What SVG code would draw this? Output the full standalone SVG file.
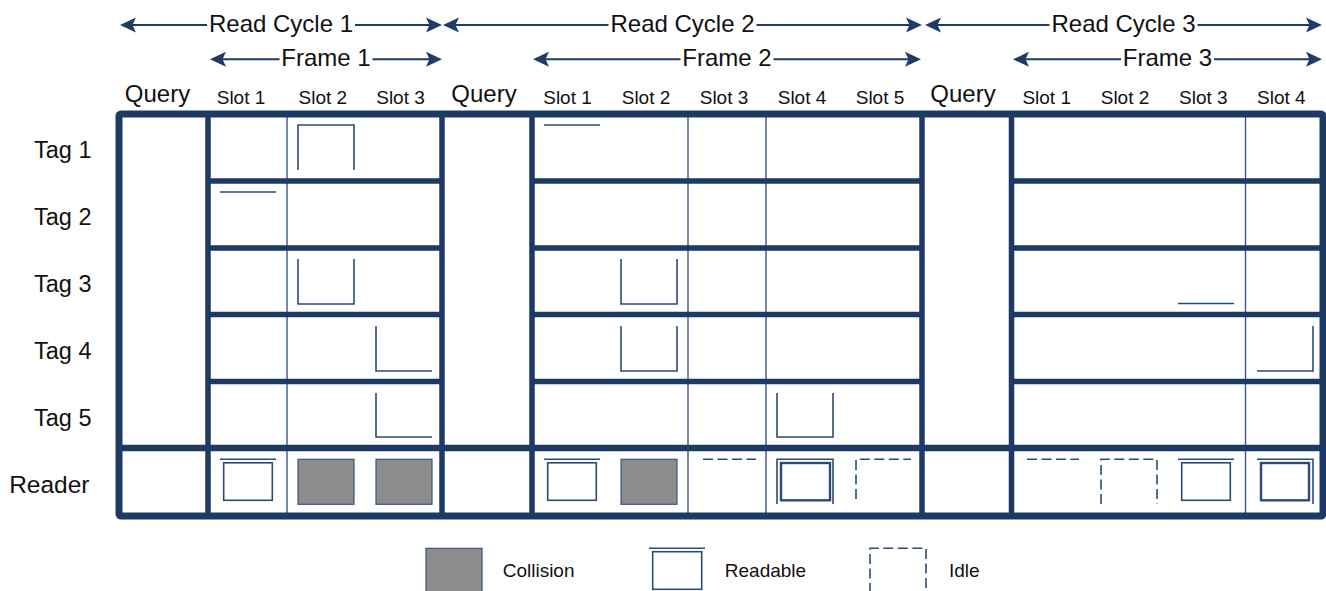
<svg xmlns="http://www.w3.org/2000/svg" xmlns:xlink="http://www.w3.org/1999/xlink" width="1326" height="591" viewBox="0 0 1326 591">
  <style>
    text { font-family: "Liberation Sans", Arial, sans-serif; fill: #111; }
    .big { font-size: 24px; }
    .tag { font-size: 23.5px; }
    .slot { font-size: 19px; text-anchor: middle; }
    .leg { font-size: 19px; }
    .mid { text-anchor: middle; }
    .span { stroke: #1f3c66; stroke-width: 2; fill: none; marker-end: url(#head); }
    .frame { stroke: #1c3a64; stroke-width: 7; fill: none; stroke-linejoin: round; }
    .thick { stroke: #1c3a64; stroke-width: 5.5; fill: none; }
    .thin { stroke: #3d5884; stroke-width: 1.4; fill: none; }
    .sig { stroke: #2b4a78; stroke-width: 1.6; fill: none; }
    .sig2 { stroke: #2b4a78; stroke-width: 2.4; fill: none; }
    .idle { stroke: #2b4a78; stroke-width: 1.6; fill: none; stroke-dasharray: 10 4.5; }
    .coll { fill: #8c8c8c; stroke: #3a5580; stroke-width: 1.2; }
  </style>
  <defs>
    <marker id="head" viewBox="0 0 16 16" refX="8" refY="8" markerWidth="16" markerHeight="16" markerUnits="userSpaceOnUse" orient="auto">
      <path d="M0,0.5 L16,8 L0,15.5 L3.5,8 Z" fill="#1f3c66"/>
    </marker>
    <!-- reader received a clean reply: bar on top of a box -->
    <g id="readable">
      <path class="sig" d="M0,0 H56"/>
      <rect class="sig" x="3.7" y="3.5" width="48.6" height="37.5"/>
    </g>
    <rect id="collision" class="coll" x="0" y="0" width="56" height="45"/>
  </defs>

  <!-- timing spans above the table -->
  <g id="spans">
    <path class="span" d="M207,25 H128"/>
    <path class="span" d="M355,25 H434"/>
    <text class="big mid" x="281" y="32.3">Read Cycle 1</text>
    <path class="span" d="M608.5,25 H451"/>
    <path class="span" d="M756.5,25 H914"/>
    <text class="big mid" x="682.5" y="32.3">Read Cycle 2</text>
    <path class="span" d="M1049.5,25 H933"/>
    <path class="span" d="M1197.5,25 H1314"/>
    <text class="big mid" x="1123.5" y="32.3">Read Cycle 3</text>

    <path class="span" d="M279.5,59.3 H218"/>
    <path class="span" d="M372.5,59.3 H434"/>
    <text class="big mid" x="326" y="65.7">Frame 1</text>
    <path class="span" d="M680.5,59.3 H541"/>
    <path class="span" d="M773.5,59.3 H913"/>
    <text class="big mid" x="727" y="65.7">Frame 2</text>
    <path class="span" d="M1121,59.3 H1021"/>
    <path class="span" d="M1214,59.3 H1314"/>
    <text class="big mid" x="1167.5" y="65.7">Frame 3</text>
  </g>

  <!-- column headings -->
  <g id="columns">
    <text class="big mid" x="157.5" y="101.7">Query</text>
    <text class="big mid" x="484" y="101.7">Query</text>
    <text class="big mid" x="963" y="101.7">Query</text>
    <text class="slot" x="241" y="104">Slot 1</text>
    <text class="slot" x="322.8" y="104">Slot 2</text>
    <text class="slot" x="400.5" y="104">Slot 3</text>
    <text class="slot" x="567.5" y="104">Slot 1</text>
    <text class="slot" x="646" y="104">Slot 2</text>
    <text class="slot" x="724" y="104">Slot 3</text>
    <text class="slot" x="802" y="104">Slot 4</text>
    <text class="slot" x="880" y="104">Slot 5</text>
    <text class="slot" x="1046.7" y="104">Slot 1</text>
    <text class="slot" x="1125" y="104">Slot 2</text>
    <text class="slot" x="1203.3" y="104">Slot 3</text>
    <text class="slot" x="1281.3" y="104">Slot 4</text>
  </g>

  <!-- row headings -->
  <g id="rows">
    <text class="tag" x="91.5" y="158.3" text-anchor="end">Tag 1</text>
    <text class="tag" x="91.5" y="225.3" text-anchor="end">Tag 2</text>
    <text class="tag" x="91.5" y="292.2" text-anchor="end">Tag 3</text>
    <text class="tag" x="91.5" y="359.2" text-anchor="end">Tag 4</text>
    <text class="tag" x="91.5" y="426.2" text-anchor="end">Tag 5</text>
    <text class="tag" x="89.5" y="493" text-anchor="end" style="font-size:24.5px">Reader</text>
  </g>

  <!-- table grid -->
  <g id="grid">
    <path class="thin" d="M287,114 V516 M688,114 V516 M766,114 V516 M1245.5,114 V516"/>
    <path class="thick" d="M208,114 V516 M442,114 V516 M532,114 V516 M922,114 V516 M1011.5,114 V516"/>
    <path class="thick" d="M208,181 H442 M532,181 H922 M1011.5,181 H1323
                           M208,248 H442 M532,248 H922 M1011.5,248 H1323
                           M208,314.5 H442 M532,314.5 H922 M1011.5,314.5 H1323
                           M208,381.5 H442 M532,381.5 H922 M1011.5,381.5 H1323"/>
    <path class="thick" d="M119,448 H1323" style="stroke-width:6.5"/>
    <rect class="frame" x="119" y="114" width="1204" height="402" rx="2"/>
  </g>

  <!-- tag transmissions -->
  <g id="tags">
    <path class="sig" d="M298,170 V125 H354 V170"/>
    <path class="sig" d="M220,192 H276"/>
    <path class="sig" d="M298,259 V304 H354 V259"/>
    <path class="sig" d="M376,326 V371 H432"/>
    <path class="sig" d="M376,393 V437 H432"/>
    <path class="sig" d="M544,125 H600"/>
    <path class="sig" d="M621,259 V304 H677 V259"/>
    <path class="sig" d="M621,326 V371 H677 V326"/>
    <path class="sig" d="M777,393 V437 H833 V393"/>
    <path class="sig" d="M1178,303.5 H1234"/>
    <path class="sig" d="M1257,371 H1313 V326"/>
  </g>

  <!-- reader outcome per slot -->
  <g id="reader">
    <use xlink:href="#readable" x="220" y="459.3"/>
    <use xlink:href="#collision" x="298" y="459.3"/>
    <use xlink:href="#collision" x="376" y="459.3"/>
    <use xlink:href="#readable" x="544" y="459.3"/>
    <use xlink:href="#collision" x="621" y="459.3"/>
    <path class="idle" d="M703,459.3 H756"/>
    <path class="sig" d="M777,504 V459.3 H833 V504"/>
    <rect class="sig2" x="781" y="463" width="49" height="37.3"/>
    <path class="idle" d="M856,499 V459.3 H911"/>
    <path class="idle" d="M1027,459.3 H1079"/>
    <path class="idle" d="M1101,504 V459.3 H1157 V504"/>
    <use xlink:href="#readable" x="1178" y="459.3"/>
    <path class="sig" d="M1257,459.3 H1313 V504"/>
    <rect class="sig2" x="1261" y="463" width="48" height="37.3"/>
  </g>

  <!-- legend -->
  <g id="legend">
    <use xlink:href="#collision" x="426" y="548.3"/>
    <text class="leg" x="502.7" y="576.7">Collision</text>
    <path class="sig" d="M649,548.3 H705"/>
    <rect class="sig" x="652.7" y="551.7" width="49" height="37.6"/>
    <text class="leg" x="724.8" y="576.7">Readable</text>
    <path class="idle" d="M870,593 V548.3 H926 V593"/>
    <text class="leg" x="949" y="576.7">Idle</text>
  </g>
</svg>
